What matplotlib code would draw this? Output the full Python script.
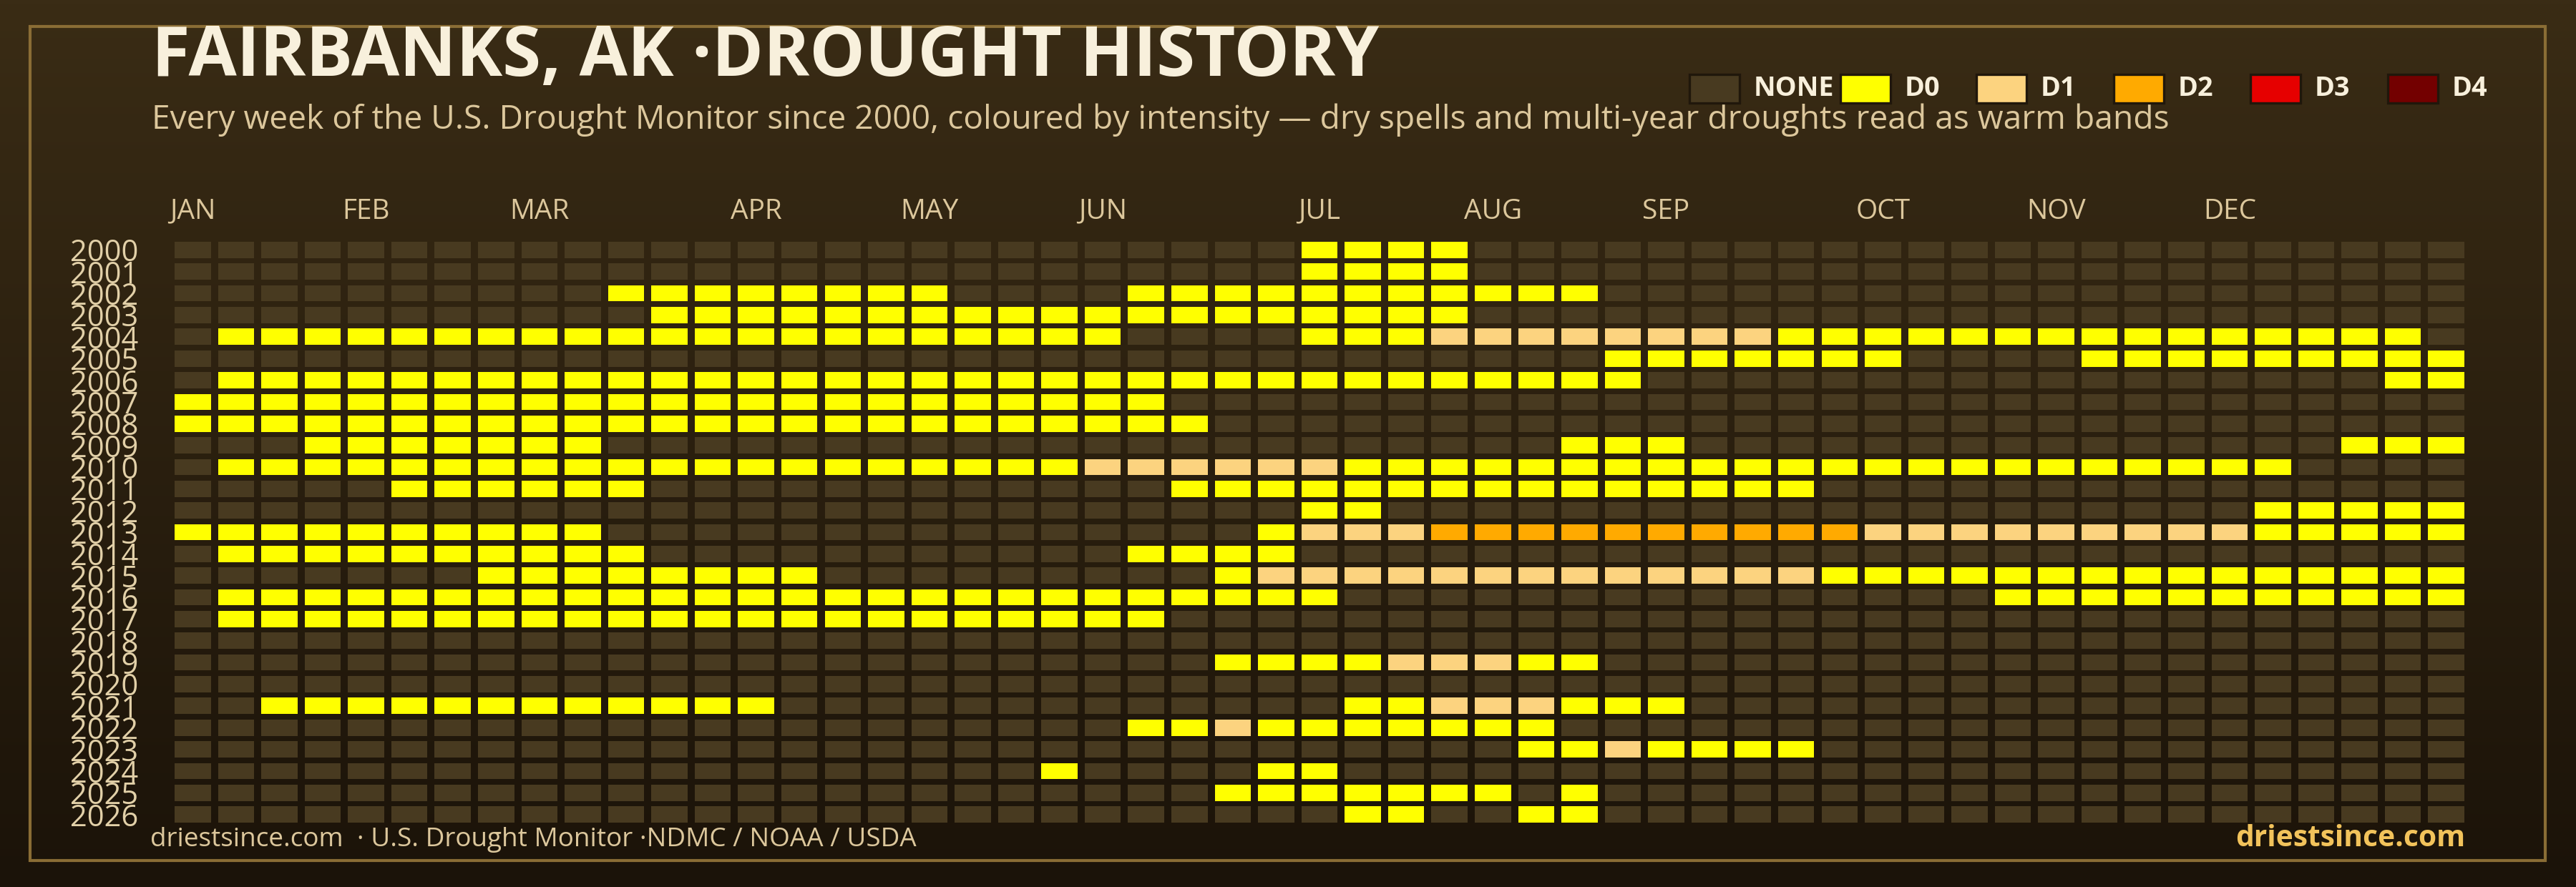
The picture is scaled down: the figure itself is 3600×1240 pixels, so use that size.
import matplotlib
matplotlib.use("Agg")
import matplotlib.pyplot as plt
from matplotlib.patches import Rectangle
import numpy as np

plt.rcParams['font.family'] = ['Open Sans', 'DejaVu Sans']

# one string per year, 53 weeks, grouped by 10 for reading; 0=none 1=D0 2=D1 3=D2
years = list(range(2000, 2027))
weeks = [
    "0000000000 0000000000 0000001111 0000000000 0000000000 000",  # 2000
    "0000000000 0000000000 0000001111 0000000000 0000000000 000",  # 2001
    "0000000000 1111111100 0011111111 1110000000 0000000000 000",  # 2002
    "0000000000 0111111111 1111111111 0000000000 0000000000 000",  # 2003
    "0111111111 1111111111 1100001112 2222222111 1111111111 110",  # 2004
    "0000000000 0000000000 0000000000 0001111111 0000111111 111",  # 2005
    "0111111111 1111111111 1111111111 1111000000 0000000000 011",  # 2006
    "1111111111 1111111111 1110000000 0000000000 0000000000 000",  # 2007
    "1111111111 1111111111 1111000000 0000000000 0000000000 000",  # 2008
    "0001111111 0000000000 0000000000 0011100000 0000000000 111",  # 2009
    "0111111111 1111111111 1222222111 1111111111 1111111110 000",  # 2010
    "0000011111 1000000000 0001111111 1111111100 0000000000 000",  # 2011
    "0000000000 0000000000 0000001100 0000000000 0000000011 111",  # 2012
    "1111111111 0000000000 0000012223 3333333332 2222222211 111",  # 2013
    "0111111111 1000000000 0011110000 0000000000 0000000000 000",  # 2014
    "0000000111 1111100000 0000122222 2222222211 1111111111 111",  # 2015
    "0111111111 1111111111 1111111000 0000000000 0011111111 111",  # 2016
    "0111111111 1111111111 1110000000 0000000000 0000000000 000",  # 2017
    "0000000000 0000000000 0000000000 0000000000 0000000000 000",  # 2018
    "0000000000 0000000000 0000111122 2110000000 0000000000 000",  # 2019
    "0000000000 0000000000 0000000000 0000000000 0000000000 000",  # 2020
    "0011111111 1111000000 0000000112 2211100000 0000000000 000",  # 2021
    "0000000000 0000000000 0011211111 1100000000 0000000000 000",  # 2022
    "0000000000 0000000000 0000000000 0112111100 0000000000 000",  # 2023
    "0000000000 0000000000 1000011000 0000000000 0000000000 000",  # 2024
    "0000000000 0000000000 0000111111 1010000000 0000000000 000",  # 2025
    "0000000000 0000000000 0000000110 0110000000 0000000000 000",  # 2026
]
months = ["JAN", "FEB", "MAR", "APR", "MAY", "JUN",
          "JUL", "AUG", "SEP", "OCT", "NOV", "DEC"]
month_weeks = [0, 4, 8, 13, 17, 21, 26, 30, 34, 39, 43, 47]
levels = ["NONE", "D0", "D1", "D2", "D3", "D4"]
level_colors = ["#483a20", "#ffff00", "#fcd37f", "#ffaa00", "#e60000", "#730000"]

grid = np.array([[int(c) for c in w.replace(" ", "")] for w in weeks])

W, H = 3600, 1240
fig = plt.figure(figsize=(W / 200, H / 200), dpi=200)

# background layer in pixel coordinates
bg = fig.add_axes([0, 0, 1, 1])
bg.set_xlim(0, W)
bg.set_ylim(H, 0)
bg.axis("off")
grad = np.linspace(0, 1, 256).reshape(-1, 1)
top = np.array([0x3a, 0x2c, 0x15]) / 255
bot = np.array([0x1b, 0x13, 0x09]) / 255
img = top + (bot - top) * grad[:, :, None]
bg.imshow(img, extent=[0, W, H, 0], aspect="auto", zorder=0)
bg.add_patch(Rectangle((42, 37), 3515, 1166, fill=False, edgecolor="#8a6d35",
                       lw=1.5, zorder=1))

cream = "#f8f0dc"
tan = "#dcc79c"
bg.text(212, 106, "FAIRBANKS, AK ·DROUGHT HISTORY", color=cream, fontsize=35.1,
        fontweight="bold", va="baseline", ha="left", zorder=3)
bg.text(212, 180, "Every week of the U.S. Drought Monitor since 2000, coloured by "
        "intensity \u2014 dry spells and multi-year droughts read as warm bands",
        color=tan, fontsize=16.6, fontweight="medium", va="baseline", ha="left",
        zorder=3)

# legend
box_left = [2361, 2572, 2762, 2954, 3145, 3337]
for x0, name, col in zip(box_left, levels, level_colors):
    bg.add_patch(Rectangle((x0, 104), 70, 40, facecolor=col, edgecolor="#20170b",
                           lw=1.2, zorder=3))
    bg.text(x0 + 90, 134, name, color=cream, fontsize=13.6, fontweight="bold",
            va="baseline", ha="left", zorder=3)

# footer
bg.text(210, 1183, "driestsince.com  \u00b7 U.S. Drought Monitor \u00b7NDMC / NOAA / USDA",
        color=tan, fontsize=13.3, va="baseline", ha="left", zorder=3)
bg.text(3445, 1183, "driestsince.com", color="#f2c35b", fontsize=14.7,
        fontweight="bold", va="baseline", ha="right", zorder=3)

# heatmap grid
ax = fig.add_axes([239 / W, 1 - 1153.8 / H, 3210 / W, 819.6 / H])
ax.set_facecolor("none")
ax.set_xlim(-0.5, grid.shape[1] - 0.5)
ax.set_ylim(len(years) - 0.5, -0.5)
cw, ch = 0.834, 0.748
for r in range(grid.shape[0]):
    for c in range(grid.shape[1]):
        ax.add_patch(Rectangle((c - cw / 2, r - ch / 2), cw, ch,
                               facecolor=level_colors[grid[r, c]], lw=0))

ax.xaxis.tick_top()
ax.set_xticks(month_weeks)
ax.set_xticklabels(months)
ax.set_yticks(range(len(years)))
ax.set_yticklabels([str(y) for y in years])
ax.tick_params(axis="x", length=0, pad=7, labelsize=14, labelcolor=tan)
ax.tick_params(axis="y", length=0, pad=16.5, labelsize=15, labelcolor="#e2d0a8")
for s in ax.spines.values():
    s.set_visible(False)

fig.savefig("out.png", dpi=200)
